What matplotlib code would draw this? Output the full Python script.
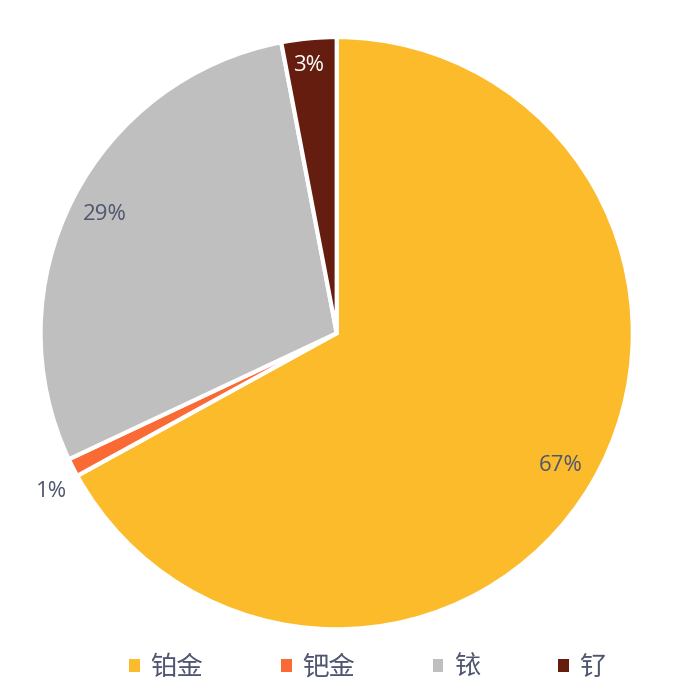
import numpy as np
import matplotlib.pyplot as plt
from matplotlib.patches import Patch

plt.rcParams['font.family'] = ['Noto Sans CJK SC', 'DejaVu Sans']

metals = ['铂金', '钯金', '铱', '钌']
shares = [67, 1, 29, 3]
colors = ['#FCBB2B', '#F96A35', '#BFBFBF', '#651D10']
text_col = '#4F5670'

fig = plt.figure(figsize=(7, 7), dpi=100)
ax = fig.add_axes([0.058, 0.101, 0.846, 0.846])

wedges, texts, pcts = ax.pie(shares, colors=colors, startangle=90, counterclock=False,
                             autopct='%d%%', pctdistance=0.88,
                             wedgeprops=dict(edgecolor='white', linewidth=3),
                             textprops=dict(fontsize=16, color=text_col, family=['Open Sans', 'DejaVu Sans']))
ax.set_aspect('equal')
ax.set_xlim(-1, 1)
ax.set_ylim(-1, 1)

# 1% sits outside the pie, 3% is white on the dark slice
w = wedges[1]
ang = np.deg2rad((w.theta1 + w.theta2) / 2 + 2)
pcts[1].set_position((1.1 * np.cos(ang), 1.1 * np.sin(ang)))
pcts[3].set_color('white')
pcts[3].set_position((-0.095, 0.905))

handles = [Patch(facecolor=c, edgecolor='none') for c in colors]
fig.legend(handles, metals, loc='center', bbox_to_anchor=(0.525, 0.047), ncol=4, frameon=False,
           fontsize=19, handlelength=0.4, handleheight=0.4, handletextpad=0.4,
           columnspacing=2.95, labelcolor=text_col)

plt.savefig('out.png', dpi=100)
